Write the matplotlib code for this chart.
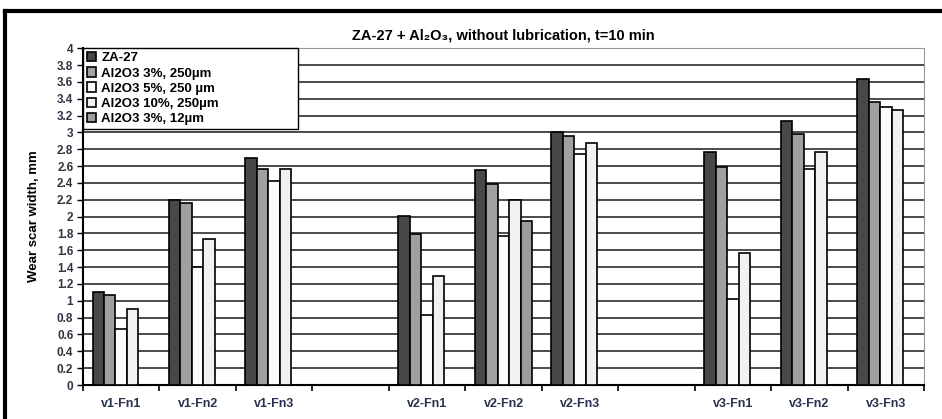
import matplotlib.pyplot as plt
from matplotlib.lines import Line2D
import numpy as np

plt.rcParams['font.family'] = ['Liberation Sans', 'DejaVu Sans']

# category slots (empty strings are the gaps between v1, v2, v3)
categories = ['v1-Fn1', 'v1-Fn2', 'v1-Fn3', '',
              'v2-Fn1', 'v2-Fn2', 'v2-Fn3', '',
              'v3-Fn1', 'v3-Fn2', 'v3-Fn3']

nan = np.nan
za27 = [1.10, 2.20, 2.70, nan, 2.01, 2.55, 3.00, nan, 2.77, 3.14, 3.64]
al3_250 = [1.07, 2.16, 2.56, nan, 1.79, 2.39, 2.96, nan, 2.59, 2.98, 3.36]
al5_250 = [0.66, 1.40, 2.42, nan, 0.83, 1.77, 2.74, nan, 1.02, 2.56, 3.30]
al10_250 = [0.90, 1.73, 2.56, nan, 1.29, 2.20, 2.87, nan, 1.57, 2.77, 3.27]
al3_12 = [nan, nan, nan, nan, nan, 1.95, nan, nan, nan, nan, nan]

series = [
    ('ZA-27', za27, '#484848'),
    ('Al2O3 3%, 250µm', al3_250, '#a0a0a0'),
    ('Al2O3 5%, 250 µm', al5_250, '#fcfcfc'),
    ('Al2O3 10%, 250µm', al10_250, '#f1f1f1'),
    ('Al2O3 3%, 12µm', al3_12, '#9c9c9c'),
]

fig = plt.figure(figsize=(9.42, 4.19), dpi=100)
ax_l, ax_b = 0.0881, 0.0811
ax_w, ax_h = 0.981 - 0.0881, 0.885 - 0.0811
ax = fig.add_axes([ax_l, ax_b, ax_w, ax_h])

x = np.arange(len(categories))
w = 0.15
for i, (name, vals, col) in enumerate(series):
    ax.bar(x - 0.375 + w * (i + 0.5), vals, width=w, color=col,
           edgecolor='black', linewidth=1.2, label=name, zorder=3)

ax.set_xlim(-0.5, len(categories) - 0.5)
ax.set_ylim(0, 4)
yt = np.arange(0, 4.01, 0.2)
ax.set_yticks(yt)
ax.set_yticklabels([f'{v:g}' for v in np.round(yt, 1)], fontsize=8.5,
                   fontweight='bold', color='#333344')
for v in yt[1:-1]:
    ax.axhline(v, color='#1a1a1a', linewidth=1.1, zorder=1)

ax.set_xticks(x)
ax.set_xticklabels(categories, fontsize=9, fontweight='bold', color='#2a3050')
ax.tick_params(axis='x', which='major', length=0, pad=9)
ax.set_xticks(np.arange(-0.5, len(categories)), minor=True)
ax.tick_params(axis='x', which='minor', length=4, width=1.2, direction='out')
ax.tick_params(axis='y', length=4, width=1.0, pad=3)

ax.spines['left'].set_linewidth(1.5)
ax.spines['bottom'].set_linewidth(1.5)
ax.spines['top'].set_color('#999999')
ax.spines['right'].set_color('#999999')

ax.set_ylabel('Wear scar width, mm', fontsize=9.5, fontweight='bold', labelpad=12)
ax.set_title('ZA-27 + Al₂O₃, without lubrication, t=10 min', fontsize=10.5,
             fontweight='bold', pad=6)

# legend box spans x 83-298 px, y 47-128 px in the source
leg_w = (298 - 83) / (924 - 83)
leg_h = (128 - 47) / (386 - 48)
leg = ax.legend(loc='upper left', bbox_to_anchor=(0, 1 - leg_h, leg_w, leg_h),
                mode='expand', prop={'weight': 'bold', 'size': 9.5},
                frameon=True, fancybox=False, edgecolor='black', framealpha=1,
                borderaxespad=0, handlelength=0.7, handleheight=0.7,
                handletextpad=0.4, labelspacing=0.22, borderpad=0.3)
leg.get_frame().set_linewidth(1.0)
leg.set_zorder(5)

# outer black frame, cut off at right and bottom like the source
l = 5 / 942
t = 1 - 11 / 419
fig.add_artist(Line2D([l, l], [-0.1, t], transform=fig.transFigure,
                      color='black', linewidth=3))
fig.add_artist(Line2D([l, 1.1], [t, t], transform=fig.transFigure,
                      color='black', linewidth=3))

fig.savefig('out.png', dpi=100)
